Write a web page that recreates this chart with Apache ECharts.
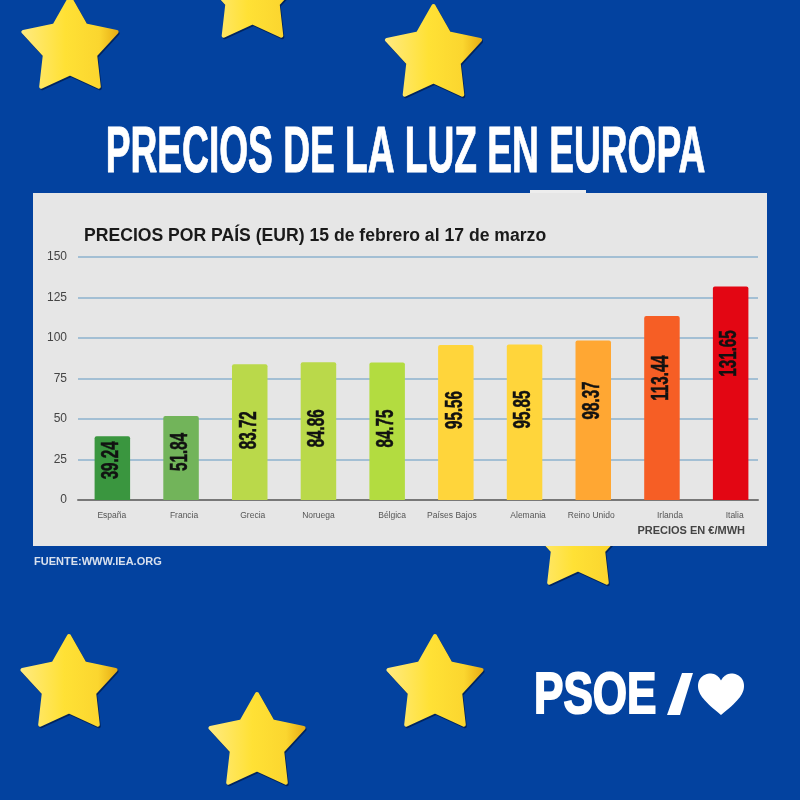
<!DOCTYPE html>
<html><head><meta charset="utf-8">
<style>html,body{margin:0;padding:0;background:#03429f}#c{width:800px;height:800px}</style>
<script src="https://cdn.jsdelivr.net/npm/echarts@6/dist/echarts.min.js"></script>
</head><body><div id="c"></div>
<script>
const categories = ['España','Francia','Grecia','Noruega','Bélgica','Países Bajos','Alemania','Reino Unido','Irlanda','Italia'];
const prices = [39.24,51.84,83.72,84.86,84.75,95.56,95.85,98.37,113.44,131.65];
const barColors = ['#3A963F','#72B45A','#BAD94A','#BAD94A','#B3DC40','#FFD53B','#FFD53B','#FFA733','#F65E25','#E30613'];
const labelDrop = [24,36,66,66,66,65,65,60,62,67];
const nameNudge = [-0.5,3,3,0,5,-4,3.5,-2,8,4];
const yTicks = [0,25,50,75,100,125,150];

const starCentres = [[70,47],[252.5,-4],[433.5,55],[578,543],[69,685],[257,743],[435,685]];
function starPoints(cx,cy,R,r){
  const p=[];
  for(let i=0;i<10;i++){
    const a=-Math.PI/2+i*Math.PI/5, q=i%2?r:R;
    p.push([cx+q*Math.cos(a),cy+q*Math.sin(a)]);
  }
  return p;
}
const starFill={type:'linear',x:0,y:0,x2:1,y2:0,colorStops:[
  {offset:0,color:'#FFEA80'},{offset:0.45,color:'#FFE135'},{offset:0.8,color:'#FBD62F'},{offset:1,color:'#E6AC14'}]};
const starShadows=starCentres.map(c=>({type:'polygon',z:-6,
  shape:{points:starPoints(c[0]+1,c[1]+1.5,49,26.5)},
  style:{fill:'#00235e',stroke:'#00235e',lineWidth:4,lineJoin:'round'}}));
const stars=starCentres.map(c=>({type:'polygon',z:-5,
  shape:{points:starPoints(c[0],c[1],49,26.5)},
  style:{fill:starFill,stroke:starFill,lineWidth:4,lineJoin:'round'}}));
function sampleCurves(start,curves,ox,oy,sx,sy){
  const p=[];let a=start;
  curves.forEach(c=>{
    for(let k=0;k<16;k++){
      const t=k/16,u=1-t;
      p.push([
        ox+sx*(u*u*u*a[0]+3*u*u*t*c[0]+3*u*t*t*c[2]+t*t*t*c[4]),
        oy+sy*(u*u*u*a[1]+3*u*u*t*c[1]+3*u*t*t*c[3]+t*t*t*c[5])]);
    }
    a=[c[4],c[5]];
  });
  return p;
}
const heartOutline=sampleCurves([50,90],[[15,62,0,46,0,27],[0,11,12,0,27,0],[37,0,45,6,50,15],[55,6,63,0,73,0],[88,0,100,11,100,27],[100,46,85,62,50,90]],698,673.5,0.46,0.46);

const chart=echarts.init(document.getElementById('c'),null,{renderer:'canvas'});
chart.setOption({
  animation:false,
  backgroundColor:'#03429F',
  textStyle:{fontFamily:'Liberation Sans'},
  title:[{text:'PRECIOS POR PAÍS (EUR) 15 de febrero al 17 de marzo',left:79,top:222,
    textStyle:{fontFamily:'Liberation Sans',fontWeight:'bold',fontSize:17.6,color:'#1a1a1a'}}],
  graphic:[
    ...starShadows,...stars,
    {type:'rect',z:-4,shape:{x:530,y:190,width:56,height:4},style:{fill:'#EDEDED'}},
    {type:'rect',z:-3,shape:{x:33,y:193,width:734,height:353},style:{fill:'#E6E6E6'}},
    {type:'text',z:5,x:405.5,y:154,scaleX:0.571,scaleY:1,style:{text:'PRECIOS DE LA LUZ EN EUROPA',align:'center',verticalAlign:'middle',
      fontFamily:'Liberation Sans',fontWeight:'bold',fontSize:65,fill:'#fff',stroke:'#fff',lineWidth:1}},
    {type:'text',z:5,x:745,y:531,style:{text:'PRECIOS EN €/MWH',align:'right',verticalAlign:'middle',
      fontFamily:'Liberation Sans',fontWeight:'bold',fontSize:11,fill:'#444'}},
    {type:'text',z:5,x:34,y:562,style:{text:'FUENTE:WWW.IEA.ORG',align:'left',verticalAlign:'middle',
      fontFamily:'Liberation Sans',fontWeight:'bold',fontSize:11,fill:'#D8E0EE'}},
    {type:'text',z:5,x:534,y:697,scaleX:0.76,style:{text:'PSOE',align:'left',verticalAlign:'middle',
      fontFamily:'Liberation Sans',fontWeight:'bold',fontSize:58,fill:'#fff',stroke:'#fff',lineWidth:2}},
    {type:'polygon',z:5,shape:{points:[[682,673],[693,673],[680,715],[667,715]]},style:{fill:'#fff'}},
    {type:'polygon',z:5,shape:{points:heartOutline},style:{fill:'#fff'}}
  ],
  grid:[
    {left:78,top:256.7,width:680,height:243.3},
    {left:78,top:256.7,width:687,height:243.3}
  ],
  xAxis:[
    {gridIndex:0,type:'category',data:categories,axisLine:{lineStyle:{color:'#777',width:2}},axisTick:{show:false},axisLabel:{show:false}},
    {gridIndex:1,type:'category',
      data:categories.map((n,i)=>({value:n,textStyle:{padding:nameNudge[i]>0?[0,0,0,2*nameNudge[i]]:[0,-2*nameNudge[i],0,0]}})),
      axisLine:{show:false},axisTick:{show:false},
      axisLabel:{interval:0,margin:11,fontSize:8.5,color:'#555',fontFamily:'Liberation Sans'}}
  ],
  yAxis:[
    {gridIndex:0,type:'value',min:yTicks[0],max:yTicks[yTicks.length-1],interval:25,
      axisLine:{show:false},axisTick:{show:false},
      axisLabel:{margin:11,fontSize:12,color:'#444',fontFamily:'Liberation Sans'},
      splitLine:{lineStyle:{color:'#8DB2CE',width:1.5}}},
    {gridIndex:1,type:'value',min:yTicks[0],max:yTicks[yTicks.length-1],interval:25,show:false,splitLine:{show:false}}
  ],
  series:[{
    type:'bar',xAxisIndex:1,yAxisIndex:1,barWidth:35.5,
    data:prices.map((v,i)=>({value:v,itemStyle:{color:barColors[i],borderRadius:[2,2,0,0]}}))
  },{
    type:'custom',xAxisIndex:1,yAxisIndex:1,coordinateSystem:'cartesian2d',z:5,
    data:prices.map((v,i)=>[i,v]),
    encode:{x:0,y:1},
    renderItem:(params,api)=>{
      const i=api.value(0), v=api.value(1);
      const pt=api.coord([i,v]);
      return {type:'text',x:pt[0]-0.5,y:pt[1]+labelDrop[i],rotation:Math.PI/2,scaleX:0.66,scaleY:1,
        style:{text:v.toFixed(2),align:'center',verticalAlign:'middle',
          fontFamily:'Liberation Sans',fontWeight:'bold',fontSize:23,fill:'#111',stroke:'#111',lineWidth:0.5}};
    }
  }]
});
</script></body></html>
